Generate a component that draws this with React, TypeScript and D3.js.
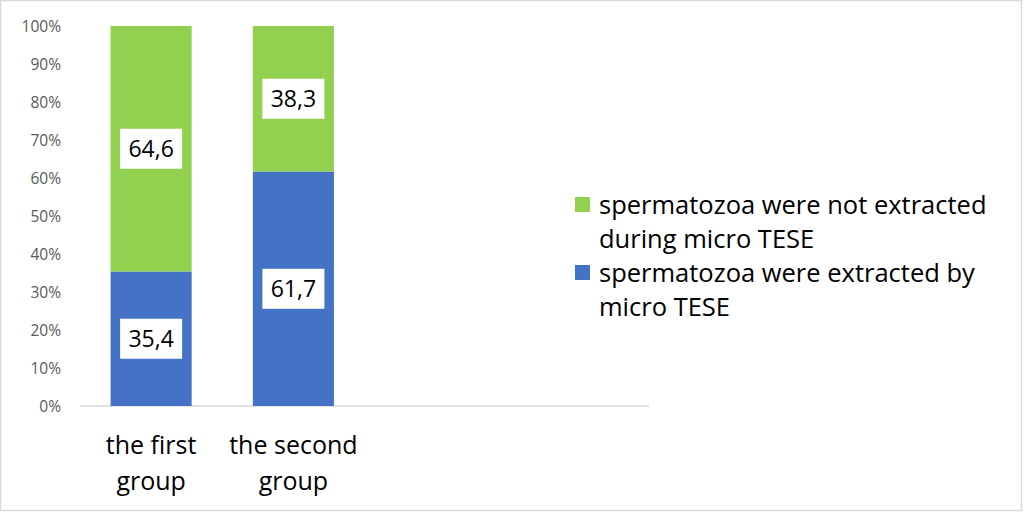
import React from "react";
import * as d3 from "d3";

const categories = [["the first", "group"], ["the second", "group"]];
const slots = [0, 1, 2, 3];
const extracted = [35.4, 61.7];
const notExtracted = [64.6, 38.3];
const yTicks = [0, 10, 20, 30, 40, 50, 60, 70, 80, 90, 100];
const seriesNames = [
  { lines: ["spermatozoa were not extracted", "during micro TESE"], color: "#92D050" },
  { lines: ["spermatozoa were extracted by", "micro TESE"], color: "#4472C4" },
];

const W = 1024, H = 513;
const FONT = "'Open Sans', sans-serif";

export default function App() {
  const x = d3.scaleBand<number>().domain(slots).range([80, 649]).paddingInner(0.43).paddingOuter(0.215);
  const y = d3.scaleLinear().domain([0, 100]).range([406, 26]);
  const fmt = (v: number) => v.toFixed(1).replace(".", ",");

  const stacks = categories.map((_, i) => [
    { y0: 0, y1: extracted[i], color: "#4472C4", v: extracted[i] },
    { y0: extracted[i], y1: extracted[i] + notExtracted[i], color: "#92D050", v: notExtracted[i] },
  ]);

  return (
    <svg width={W} height={H} style={{ position: "fixed", left: 0, top: 0, background: "#fff" }} fontFamily={FONT}>
      <rect x={0.5} y={0.5} width={1021} height={510} fill="#fff" stroke="#d9d9d9" strokeWidth={1.5} />
      {yTicks.map((t) => (
        <text key={t} x={61} y={y(t)} dy="0.36em" textAnchor="end" fontSize={15.5} fill="#595959">
          {t}%
        </text>
      ))}
      <line x1={x.range()[0]} x2={x.range()[1]} y1={y(0)} y2={y(0)} stroke="#d9d9d9" strokeWidth={1.5} />
      {stacks.map((segs, i) =>
        segs.map((s, j) => (
          <rect key={`${i}-${j}`} x={x(i)} width={x.bandwidth()} y={y(s.y1)} height={y(s.y0) - y(s.y1)} fill={s.color} />
        ))
      )}
      {stacks.map((segs, i) =>
        segs.map((s, j) => {
          const cx = (x(i) as number) + x.bandwidth() / 2;
          const cy = (y(s.y0) + y(s.y1)) / 2;
          return (
            <g key={`l${i}-${j}`}>
              <rect x={cx - 31} y={cy - 20} width={62} height={40} fill="#fff" />
              <text x={cx} y={cy} dy="0.36em" textAnchor="middle" fontSize={23} fill="#000">
                {fmt(s.v)}
              </text>
            </g>
          );
        })
      )}
      {categories.map((lines, i) => {
        const cx = (x(i) as number) + x.bandwidth() / 2;
        return (
          <text key={`c${i}`} textAnchor="middle" fontSize={25} fill="#000">
            {lines.map((l, k) => (
              <tspan key={k} x={cx} y={454 + k * 36}>
                {l}
              </tspan>
            ))}
          </text>
        );
      })}
      {seriesNames.map((s, i) => {
        const top = 195 + i * 68;
        return (
          <g key={`lg${i}`}>
            <rect x={575} y={top + 2} width={15} height={15} fill={s.color} />
            <text fontSize={25.5} fill="#000">
              {s.lines.map((l, k) => (
                <tspan key={k} x={599} y={top + 19 + k * 34}>
                  {l}
                </tspan>
              ))}
            </text>
          </g>
        );
      })}
    </svg>
  );
}
